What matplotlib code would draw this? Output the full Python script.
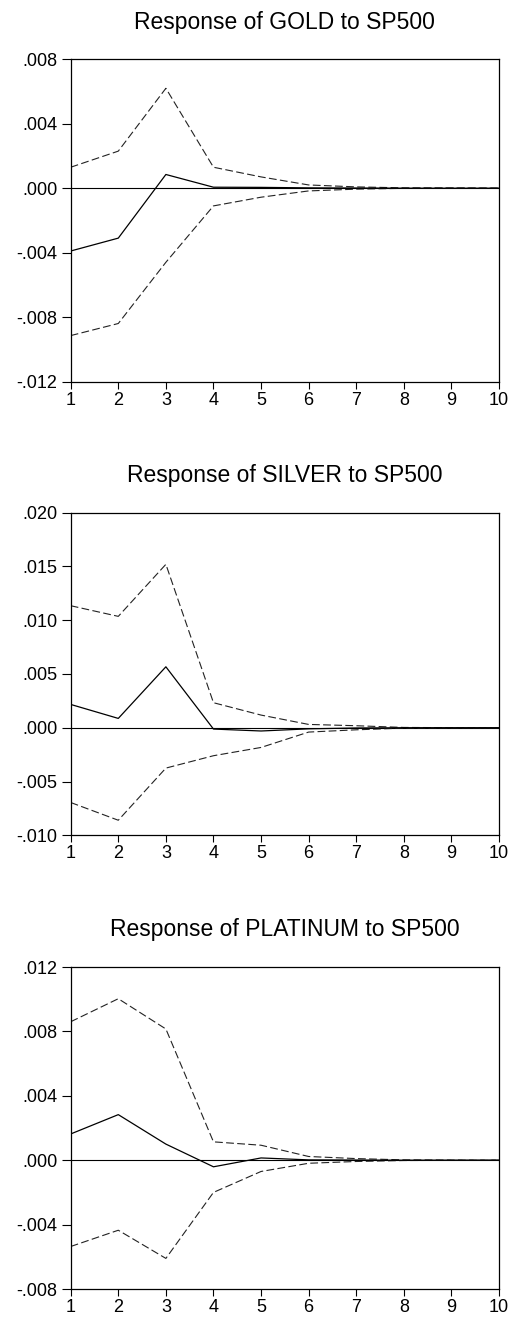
import matplotlib
matplotlib.use("Agg")
import matplotlib.pyplot as plt
from matplotlib.ticker import FuncFormatter, FixedLocator

plt.rcParams['font.family'] = ['Liberation Sans', 'DejaVu Sans']

periods = [1, 2, 3, 4, 5, 6, 7, 8, 9, 10]

gold_resp = [-0.0039, -0.0031, 0.00085, 0.00006, 0.00005, 0.00002, 0.00001, 0.0, 0.0, 0.0]
gold_upper = [0.0013, 0.0023, 0.0062, 0.0013, 0.0007, 0.0002, 0.00008, 0.00002, 0.00001, 0.0]
gold_lower = [-0.00915, -0.0084, -0.0046, -0.0011, -0.00056, -0.00017, -0.00006, -0.00001, 0.0, 0.0]

silver_resp = [0.00217, 0.00087, 0.00567, -0.00012, -0.0003, -0.0001, -0.00002, 0.0, 0.0, 0.0]
silver_upper = [0.01135, 0.01036, 0.0152, 0.00233, 0.00118, 0.00031, 0.00019, 0.00003, 0.00001, 0.0]
silver_lower = [-0.00695, -0.0086, -0.00375, -0.0026, -0.00183, -0.0004, -0.00019, -0.00003, -0.00001, 0.0]

plat_resp = [0.00163, 0.00283, 0.001, -0.00041, 0.00014, 0.00002, 0.00001, 0.0, 0.0, 0.0]
plat_upper = [0.0086, 0.01003, 0.00815, 0.00114, 0.00093, 0.00023, 0.0001, 0.00002, 0.00001, 0.0]
plat_lower = [-0.00536, -0.00435, -0.0061, -0.002, -0.0007, -0.00019, -0.00008, -0.00002, -0.00001, 0.0]

titles = ["Response of GOLD to SP500", "Response of SILVER to SP500", "Response of PLATINUM to SP500"]
yticks_list = [
    [-0.012, -0.008, -0.004, 0.0, 0.004, 0.008],
    [-0.010, -0.005, 0.0, 0.005, 0.010, 0.015, 0.020],
    [-0.008, -0.004, 0.0, 0.004, 0.008, 0.012],
]
series = [
    (gold_resp, gold_upper, gold_lower),
    (silver_resp, silver_upper, silver_lower),
    (plat_resp, plat_upper, plat_lower),
]

W, H = 511, 1320
fig = plt.figure(figsize=(W / 100, H / 100), dpi=100)

# axes boxes in pixels: (left, top, right, bottom)
boxes = [(70.7, 59.3, 499.0, 381.5), (70.7, 512.7, 499.0, 835.3), (70.7, 967.0, 499.0, 1289.0)]


def fmt(v, pos):
    s = f"{v:.3f}"
    if s.startswith("-0"):
        s = "-" + s[2:]
    elif s.startswith("0"):
        s = s[1:]
    if s == "-.000":
        s = ".000"
    return s


for (l, t, r, b), title, yt, (resp, up, lo) in zip(boxes, titles, yticks_list, series):
    ax = fig.add_axes([l / W, 1 - b / H, (r - l) / W, (b - t) / H])
    ax.axhline(0, color='black', lw=0.8, zorder=1)
    ax.plot(periods, up, color='#222222', lw=0.8, linestyle=(0, (7, 3)))
    ax.plot(periods, lo, color='#222222', lw=0.8, linestyle=(0, (7, 3)))
    ax.plot(periods, resp, color='black', lw=0.9)
    ax.set_xlim(1, 10)
    ax.set_ylim(yt[0], yt[-1])
    ax.yaxis.set_major_locator(FixedLocator(yt))
    ax.yaxis.set_major_formatter(FuncFormatter(fmt))
    ax.set_xticks(periods)
    ax.set_xticklabels([str(p) for p in periods])
    ax.tick_params(axis='both', direction='out', width=0.8, labelsize=13,
                   top=False, right=False)
    ax.tick_params(axis='y', length=6.5, pad=3.2)
    ax.tick_params(axis='x', length=5.3, pad=2)
    for sp in ax.spines.values():
        sp.set_linewidth(0.9)
    ax.set_title(title, fontsize=16.5, pad=22)

fig.savefig("out.png", dpi=100)
